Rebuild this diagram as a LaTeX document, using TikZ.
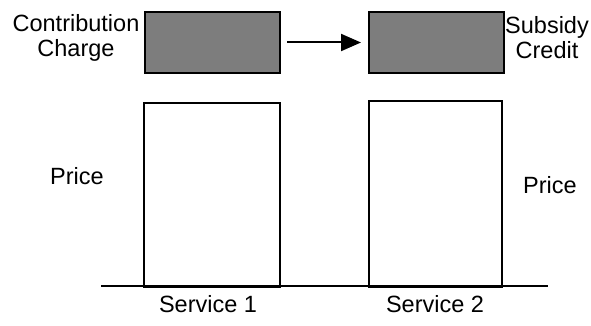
\documentclass[tikz,border=0pt]{standalone}
\usepackage{fontspec}
\setmainfont{Liberation Sans}
\usetikzlibrary{arrows.meta}
\definecolor{shade}{RGB}{125,125,125}
\begin{document}
\begin{tikzpicture}[x=1pt,y=-1pt,
  lbl/.style={inner sep=0pt,font=\fontsize{23.5}{25}\selectfont,align=center},
  subbox/.style={draw=black,line width=2pt,fill=shade,inner sep=0pt,minimum width=135pt,minimum height=61pt,anchor=north west},
  pricebox/.style={draw=black,line width=2pt,fill=white,inner sep=0pt,anchor=north west},
  conn/.style={line width=2pt,-{Triangle[length=20pt,width=17pt]}}]
\useasboundingbox (0,0) rectangle (591,326);
% shaded boxes
\node[subbox] (charge) at (144,11) {};
\node[subbox] (credit) at (368,11) {};
% price boxes
\node[pricebox,minimum width=136pt,minimum height=184pt] (p1) at (143,102) {};
\node[pricebox,minimum width=133pt,minimum height=186pt] (p2) at (368,100) {};
% baseline
\coordinate (b0) at (101,286);
\coordinate (b1) at (548,286);
\draw[line width=2pt] (b0) -- (b1);
% arrow
\draw[conn,shorten <=6pt,shorten >=7pt] (charge.east) -- (credit.west);
% labels
\node[lbl] (lc) at (76,37.5) {Contribution\\Charge};
\node[lbl] (lr) at (547,37.5) {Subsidy\\Credit};
\node[lbl] (pl) at (77,176) {Price};
\node[lbl] (pr) at (550,185) {Price};
\node[lbl] (s1) at (208,304) {Service 1};
\node[lbl] (s2) at (435,304) {Service 2};
\end{tikzpicture}
\end{document}
